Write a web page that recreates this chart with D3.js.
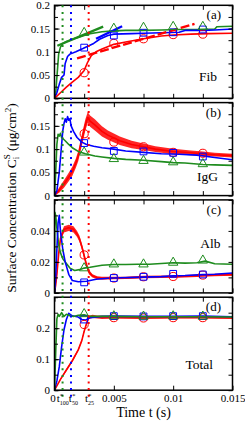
<!DOCTYPE html>
<html>
<head>
<meta charset="utf-8">
<script src="https://cdnjs.cloudflare.com/ajax/libs/d3/7.8.5/d3.min.js"></script>
<style>
  body { margin: 0; background: #fff; }
  svg { display: block; }
  text { font-family: "Liberation Serif", "DejaVu Serif", serif; fill: #000; }
</style>
</head>
<body>
<svg id="chart" width="245" height="421"></svg>
<script>
// ---- data (time in s, concentration in ug/cm^2) ----
const xTickValues = [0, 0.005, 0.01, 0.015];
const xTickLabels = ["0", "0.005", "0.01", "0.015"];
const tStarNames = ["100", "50", "25"];
const tStarTimes = [0.00068, 0.00139, 0.00288];
const markerTimes = [0.0025, 0.005, 0.0075, 0.01, 0.0125];

// (a) Fib
const fibGreenT = [0, 0.0001, 0.0002, 0.00035, 0.0005, 0.0007, 0.001, 0.0015, 0.002, 0.0025, 0.003, 0.0035, 0.004, 0.005, 0.006, 0.0075, 0.009, 0.0105, 0.012, 0.0135, 0.0137, 0.015];
const fibGreenC = [0, 0.01, 0.045, 0.095, 0.11, 0.118, 0.122, 0.127, 0.131, 0.135, 0.139, 0.141, 0.143, 0.145, 0.146, 0.146, 0.147, 0.148, 0.148, 0.149, 0.154, 0.155];
const fibBlueT = [0, 0.0002, 0.0004, 0.0006, 0.0008, 0.0009, 0.0011, 0.0013, 0.0018, 0.0024, 0.0028, 0.0033, 0.0038, 0.0045, 0.005, 0.0065, 0.0075, 0.009, 0.0105, 0.011, 0.0125, 0.0135, 0.015];
const fibBlueC = [0, 0.012, 0.03, 0.045, 0.05, 0.075, 0.09, 0.095, 0.1, 0.107, 0.112, 0.118, 0.127, 0.135, 0.138, 0.139, 0.14, 0.141, 0.142, 0.146, 0.146, 0.147, 0.149];
const fibRedT = [0, 0.0005, 0.001, 0.0015, 0.002, 0.0025, 0.0028, 0.0031, 0.0035, 0.004, 0.005, 0.006, 0.0075, 0.009, 0.01, 0.0115, 0.013, 0.015];
const fibRedC = [0, 0.012, 0.024, 0.035, 0.045, 0.06, 0.078, 0.092, 0.1, 0.106, 0.116, 0.121, 0.128, 0.134, 0.136, 0.138, 0.139, 0.14];
const fibFitGreen = [[0.00024, 0.113], [0.0041, 0.154]];
const fibFitBlue = [[0.0035, 0.128], [0.0057, 0.155]];
const fibFitRed = [[0.0019, 0.086], [0.0118, 0.16]];
const fibMarkGreen = [0.141, 0.15, 0.152, 0.154, 0.154];
const fibMarkBlue = [0.109, 0.135, 0.141, 0.142, 0.148];
const fibMarkRed = [0.055, 0.118, 0.128, 0.137, 0.138];

// (b) IgG
const iggGreenT = [0, 0.0001, 0.0002, 0.0003, 0.0004, 0.0005, 0.0006, 0.0009, 0.0012, 0.0015, 0.002, 0.0026, 0.0034, 0.004, 0.005, 0.006, 0.0075, 0.009, 0.01, 0.011, 0.0125, 0.0135, 0.015];
const iggGreenC = [0, 0.05, 0.11, 0.132, 0.128, 0.134, 0.125, 0.118, 0.11, 0.103, 0.095, 0.09, 0.085, 0.083, 0.08, 0.078, 0.076, 0.073, 0.071, 0.07, 0.067, 0.066, 0.065];
const iggBlueT = [0, 0.0002, 0.0004, 0.0006, 0.0007, 0.0008, 0.0009, 0.001, 0.0011, 0.0012, 0.0013, 0.0014, 0.0016, 0.0019, 0.0023, 0.0027, 0.0033, 0.004, 0.005, 0.006, 0.0075, 0.009, 0.0105, 0.012, 0.0135, 0.015];
const iggBlueC = [0, 0.01, 0.05, 0.11, 0.14, 0.155, 0.165, 0.158, 0.17, 0.162, 0.165, 0.15, 0.138, 0.125, 0.115, 0.11, 0.106, 0.103, 0.1, 0.096, 0.093, 0.09, 0.089, 0.087, 0.082, 0.077];
const iggRedT = [0, 0.0004, 0.0008, 0.0012, 0.0015, 0.0018, 0.002, 0.0022, 0.0024, 0.0026, 0.0028, 0.003, 0.0034, 0.004, 0.0045, 0.0055, 0.0065, 0.0075, 0.0085, 0.01, 0.0115, 0.0125, 0.0135, 0.015];
const iggRedC = [0, 0.012, 0.025, 0.04, 0.052, 0.07, 0.085, 0.108, 0.13, 0.152, 0.168, 0.16, 0.152, 0.138, 0.13, 0.118, 0.11, 0.105, 0.1, 0.095, 0.092, 0.09, 0.088, 0.086];
const iggRedNoise = [0, 0.006, 0.008, 0.009, 0.01, 0.01, 0.011, 0.012, 0.012, 0.012, 0.012, 0.012, 0.012, 0.011, 0.01, 0.009, 0.008, 0.007, 0.006, 0.006, 0.005, 0.005, 0.004, 0.004];
const iggMarkGreen = [0.093, 0.079, 0.075, 0.072, 0.068];
const iggMarkBlue = [0.113, 0.096, 0.095, 0.092, 0.084];
const iggMarkRed = [0.133, 0.115, 0.105, 0.093, 0.091];

// (c) Alb
const albGreenT = [0, 0.00003, 0.0001, 0.0002, 0.00035, 0.0005, 0.0007, 0.001, 0.0013, 0.0017, 0.0021, 0.0025, 0.003, 0.0035, 0.004, 0.005, 0.006, 0.007, 0.008, 0.009, 0.01, 0.011, 0.012, 0.0127, 0.0135, 0.015];
const albGreenC = [0, 0.052, 0.05, 0.042, 0.031, 0.026, 0.022, 0.019, 0.016, 0.0145, 0.015, 0.016, 0.0165, 0.0172, 0.0178, 0.0183, 0.0183, 0.0185, 0.0185, 0.019, 0.0195, 0.0192, 0.0195, 0.0205, 0.0188, 0.0185];
const albBlueT = [0, 0.0001, 0.0002, 0.0003, 0.0004, 0.0005, 0.0007, 0.0009, 0.0012, 0.0015, 0.002, 0.0027, 0.0035, 0.0045, 0.0055, 0.0075, 0.009, 0.01, 0.011, 0.0125, 0.0135, 0.015];
const albBlueC = [0, 0.01, 0.028, 0.045, 0.05, 0.04, 0.028, 0.02, 0.012, 0.008, 0.0072, 0.0075, 0.0088, 0.0095, 0.0098, 0.0102, 0.0105, 0.011, 0.0112, 0.0118, 0.012, 0.0128];
const albRedT = [0, 0.0001, 0.0002, 0.00035, 0.0005, 0.0008, 0.0012, 0.0016, 0.0019, 0.0021, 0.0023, 0.0025, 0.0027, 0.0029, 0.0032, 0.0036, 0.004, 0.005, 0.006, 0.0075, 0.009, 0.01, 0.011, 0.0125, 0.0135, 0.015];
const albRedC = [0, 0.005, 0.012, 0.025, 0.035, 0.041, 0.042, 0.041, 0.038, 0.035, 0.03, 0.024, 0.018, 0.0135, 0.011, 0.0098, 0.0095, 0.0096, 0.0097, 0.0102, 0.0104, 0.0105, 0.0108, 0.0112, 0.0115, 0.0118];
const albRedNoise = [0, 0.001, 0.0015, 0.002, 0.002, 0.002, 0.002, 0.002, 0.002, 0.002, 0.002, 0.002, 0.0015, 0.0015, 0.001, 0.001, 0.001, 0.0008, 0.0008, 0.0008, 0.0008, 0.0008, 0.0008, 0.0008, 0.0008, 0.0008];
const albMarkGreen = [0.016, 0.0185, 0.0185, 0.0196, 0.021];
const albMarkBlue = [0.0068, 0.0096, 0.0104, 0.0123, 0.0119];
const albMarkRed = [0.0245, 0.0096, 0.0104, 0.0106, 0.0115];

// (d) Total
const totGreenT = [0, 0.0001, 0.0002, 0.0003, 0.0004, 0.0006, 0.0008, 0.001, 0.0013, 0.0016, 0.002, 0.0025, 0.003, 0.004, 0.005, 0.0075, 0.01, 0.0125, 0.015];
const totGreenC = [0, 0.12, 0.23, 0.245, 0.238, 0.25, 0.238, 0.245, 0.24, 0.238, 0.242, 0.243, 0.238, 0.238, 0.238, 0.237, 0.237, 0.237, 0.236];
const totBlueT = [0, 0.0002, 0.0004, 0.0006, 0.0008, 0.001, 0.0012, 0.0015, 0.002, 0.0023, 0.0026, 0.003, 0.004, 0.005, 0.0075, 0.01, 0.0125, 0.015];
const totBlueC = [0, 0.03, 0.075, 0.14, 0.195, 0.228, 0.248, 0.24, 0.236, 0.228, 0.226, 0.234, 0.238, 0.239, 0.238, 0.238, 0.239, 0.237];
const totRedT = [0, 0.0005, 0.001, 0.0015, 0.002, 0.0023, 0.0025, 0.0027, 0.0029, 0.0032, 0.0036, 0.004, 0.005, 0.0075, 0.01, 0.0125, 0.015];
const totRedC = [0, 0.035, 0.065, 0.095, 0.13, 0.16, 0.19, 0.215, 0.235, 0.238, 0.236, 0.235, 0.235, 0.234, 0.235, 0.235, 0.234];
const totRedNoise = [0, 0.003, 0.004, 0.004, 0.004, 0.004, 0.004, 0.004, 0.005, 0.005, 0.005, 0.005, 0.004, 0.004, 0.004, 0.004, 0.004];
const totMarkGreen = [0.246, 0.239, 0.238, 0.239, 0.238];
const totMarkBlue = [0.228, 0.239, 0.238, 0.239, 0.239];
const totMarkRed = [0.212, 0.234, 0.233, 0.234, 0.234];

// ---- layout ----
const RED = "#ff0000", BLUE = "#0000ff", GREEN = "#1e8c1e";
const left = 54.5, right = 232.5;
const top0 = 5.3, panelH = 93, pitch = 97.3;

const panels = [
  { tag: "(a)", name: "Fib", nameX: 217, nameDy: 76, yMax: 0.2, yTicks: [0, 0.05, 0.1, 0.15, 0.2], minor: 0.025,
    lines: [[fibGreenT, fibGreenC, GREEN], [fibBlueT, fibBlueC, BLUE], [fibRedT, fibRedC, RED]],
    fits: [[fibFitGreen, GREEN, null], [fibFitBlue, BLUE, null], [fibFitRed, RED, "9,3"]],
    marks: [fibMarkRed, fibMarkBlue, fibMarkGreen] },
  { tag: "(b)", name: "IgG", nameX: 218, nameDy: 78.5, yMax: 0.2, yTicks: [0, 0.05, 0.1, 0.15], minor: 0.025,
    bands: [[iggRedT, iggRedC, iggRedNoise]],
    lines: [[iggRedT, iggRedC, RED], [iggGreenT, iggGreenC, GREEN], [iggBlueT, iggBlueC, BLUE]],
    marks: [iggMarkRed, iggMarkBlue, iggMarkGreen] },
  { tag: "(c)", name: "Alb", nameX: 220.5, nameDy: 48, yMax: 0.06, yTicks: [0, 0.02, 0.04], minor: 0.01,
    bands: [[albRedT, albRedC, albRedNoise]],
    lines: [[albRedT, albRedC, RED], [albGreenT, albGreenC, GREEN], [albBlueT, albBlueC, BLUE]],
    marks: [albMarkRed, albMarkBlue, albMarkGreen] },
  { tag: "(d)", name: "Total", nameX: 213, nameDy: 72, yMax: 0.3, yTicks: [0, 0.1, 0.2], minor: 0.05,
    bands: [[totRedT, totRedC, totRedNoise]],
    lines: [[totRedT, totRedC, RED], [totBlueT, totBlueC, BLUE], [totGreenT, totGreenC, GREEN]],
    marks: [totMarkRed, totMarkBlue, totMarkGreen] }
];

const svg = d3.select("#chart");
const x = d3.scaleLinear().domain([0, 0.015]).range([left, right]);
const xMinor = d3.range(0, 0.01501, 0.0025);
const fmt = d3.format("~g");

const markShapes = [
  [d3.symbolCircle, 52, RED],
  [d3.symbolSquare, 46, BLUE],
  [d3.symbolTriangle, 38, GREEN]
];

panels.forEach(function(p, i) {
  const top = top0 + i * pitch, bottom = top + panelH;
  const y = d3.scaleLinear().domain([0, p.yMax]).range([bottom, top]);
  const g = svg.append("g");

  g.append("clipPath").attr("id", "clip" + i)
    .append("rect").attr("x", left).attr("y", top).attr("width", right - left).attr("height", panelH);
  const plot = g.append("g").attr("clip-path", "url(#clip" + i + ")");

  const line = d3.line().x(d => x(d[0])).y(d => y(d[1]));
  const area = d3.area().x(d => x(d[0])).y0(d => y(d[1] - d[2])).y1(d => y(d[1] + d[2]));

  (p.bands || []).forEach(function(b) {
    plot.append("path").datum(d3.zip(b[0], b[1], b[2]))
      .attr("d", area).attr("fill", RED).attr("opacity", 0.85);
  });
  p.lines.forEach(function(l) {
    plot.append("path").datum(d3.zip(l[0], l[1]))
      .attr("d", line).attr("fill", "none").attr("stroke", l[2])
      .attr("stroke-width", 1.6).attr("stroke-linejoin", "round");
  });
  (p.fits || []).forEach(function(f) {
    plot.append("path").datum(f[0])
      .attr("d", line).attr("fill", "none").attr("stroke", f[1])
      .attr("stroke-width", 2.4).attr("stroke-dasharray", f[2]);
  });
  p.marks.forEach(function(vals, k) {
    const s = markShapes[k];
    plot.selectAll(null).data(d3.zip(markerTimes, vals)).enter().append("path")
      .attr("d", d3.symbol().type(s[0]).size(s[1]))
      .attr("transform", d => "translate(" + x(d[0]) + "," + y(d[1]) + ")")
      .attr("fill", "none").attr("stroke", s[2]).attr("stroke-width", 1);
  });

  // axes, ticks pointing inward
  const yMinorTicks = d3.range(0, p.yMax + 1e-9, p.minor);
  g.append("g").attr("transform", "translate(" + left + ",0)")
    .call(d3.axisLeft(y).tickValues(p.yTicks).tickFormat(fmt).tickSizeInner(-5).tickSizeOuter(0).tickPadding(4.5));
  g.append("g").attr("transform", "translate(" + left + ",0)")
    .call(d3.axisLeft(y).tickValues(yMinorTicks).tickFormat("").tickSizeInner(-3.5).tickSizeOuter(0));
  g.append("g").attr("transform", "translate(" + right + ",0)")
    .call(d3.axisRight(y).tickValues(yMinorTicks).tickFormat("").tickSizeInner(-4).tickSizeOuter(0));
  g.append("g").attr("transform", "translate(0," + top + ")")
    .call(d3.axisTop(x).tickValues(xMinor).tickFormat("").tickSizeInner(-4.5).tickSizeOuter(0));
  const xb = g.append("g").attr("transform", "translate(0," + bottom + ")")
    .call(d3.axisBottom(x).tickValues(xMinor).tickFormat("").tickSizeInner(-4.5).tickSizeOuter(0));
  if (i === panels.length - 1) {
    xb.call(d3.axisBottom(x).tickValues(xTickValues).tickFormat((d, j) => xTickLabels[j])
      .tickSizeInner(-4.5).tickSizeOuter(0).tickPadding(4));
    xb.selectAll(".tick text").filter(d => d === 0).attr("dx", -2);
  }
  g.selectAll(".domain").remove();
  g.selectAll(".tick line").attr("stroke", "#000").attr("stroke-width", 1);
  g.selectAll(".tick text").attr("font-size", 11).attr("font-family", "Liberation Serif, DejaVu Serif, serif");

  g.append("rect").attr("x", left).attr("y", top).attr("width", right - left).attr("height", panelH)
    .attr("fill", "none").attr("stroke", "#000").attr("stroke-width", 1.5);

  g.append("text").attr("x", 221).attr("y", top + 14).attr("text-anchor", "end")
    .attr("font-size", 13).text(p.tag);
  g.append("text").attr("x", p.nameX).attr("y", top + p.nameDy).attr("text-anchor", "end")
    .attr("font-size", 13.5).text(p.name);
});

// dotted t* markers across all panels
const starColors = [GREEN, BLUE, RED];
svg.selectAll(null).data(tStarTimes).enter().append("line")
  .attr("x1", d => x(d)).attr("x2", d => x(d))
  .attr("y1", top0).attr("y2", 398)
  .attr("stroke", (d, i) => starColors[i]).attr("stroke-width", 2)
  .attr("stroke-dasharray", "2,4.6");

// t* tick labels under the bottom axis (nudged so they do not collide)
const starShift = [-5.8, -2.2, -3.7];
const baseY = top0 + 3 * pitch + panelH + 12;
tStarTimes.forEach(function(t, i) {
  const x0 = x(t) + starShift[i];
  svg.append("text").attr("x", x0).attr("y", baseY).attr("font-size", 11).text("t");
  svg.append("text").attr("x", x0 + 3.1).attr("y", baseY - 4.5).attr("font-size", 7).text("*");
  svg.append("text").attr("x", x0 + 3.1).attr("y", baseY + 2.5).attr("font-size", 6).text(tStarNames[i]);
});

// axis titles
svg.append("text").attr("x", (left + right) / 2).attr("y", 416.5).attr("text-anchor", "middle")
  .attr("font-size", 14).text("Time t (s)");

const yl = svg.append("text").attr("transform", "translate(15.5,198) rotate(-90)")
  .attr("text-anchor", "middle").attr("font-size", 13.5);
yl.append("tspan").text("Surface Concentration C");
yl.append("tspan").attr("font-size", 9).attr("dy", 3).text("i");
yl.append("tspan").attr("font-size", 9).attr("dx", -2.5).attr("dy", -9).text("S");
yl.append("tspan").attr("dy", 6).text(" (\u03bcg/cm");
yl.append("tspan").attr("font-size", 9).attr("dy", -5).text("2");
yl.append("tspan").attr("dy", 5).text(")");
</script>
</body>
</html>
